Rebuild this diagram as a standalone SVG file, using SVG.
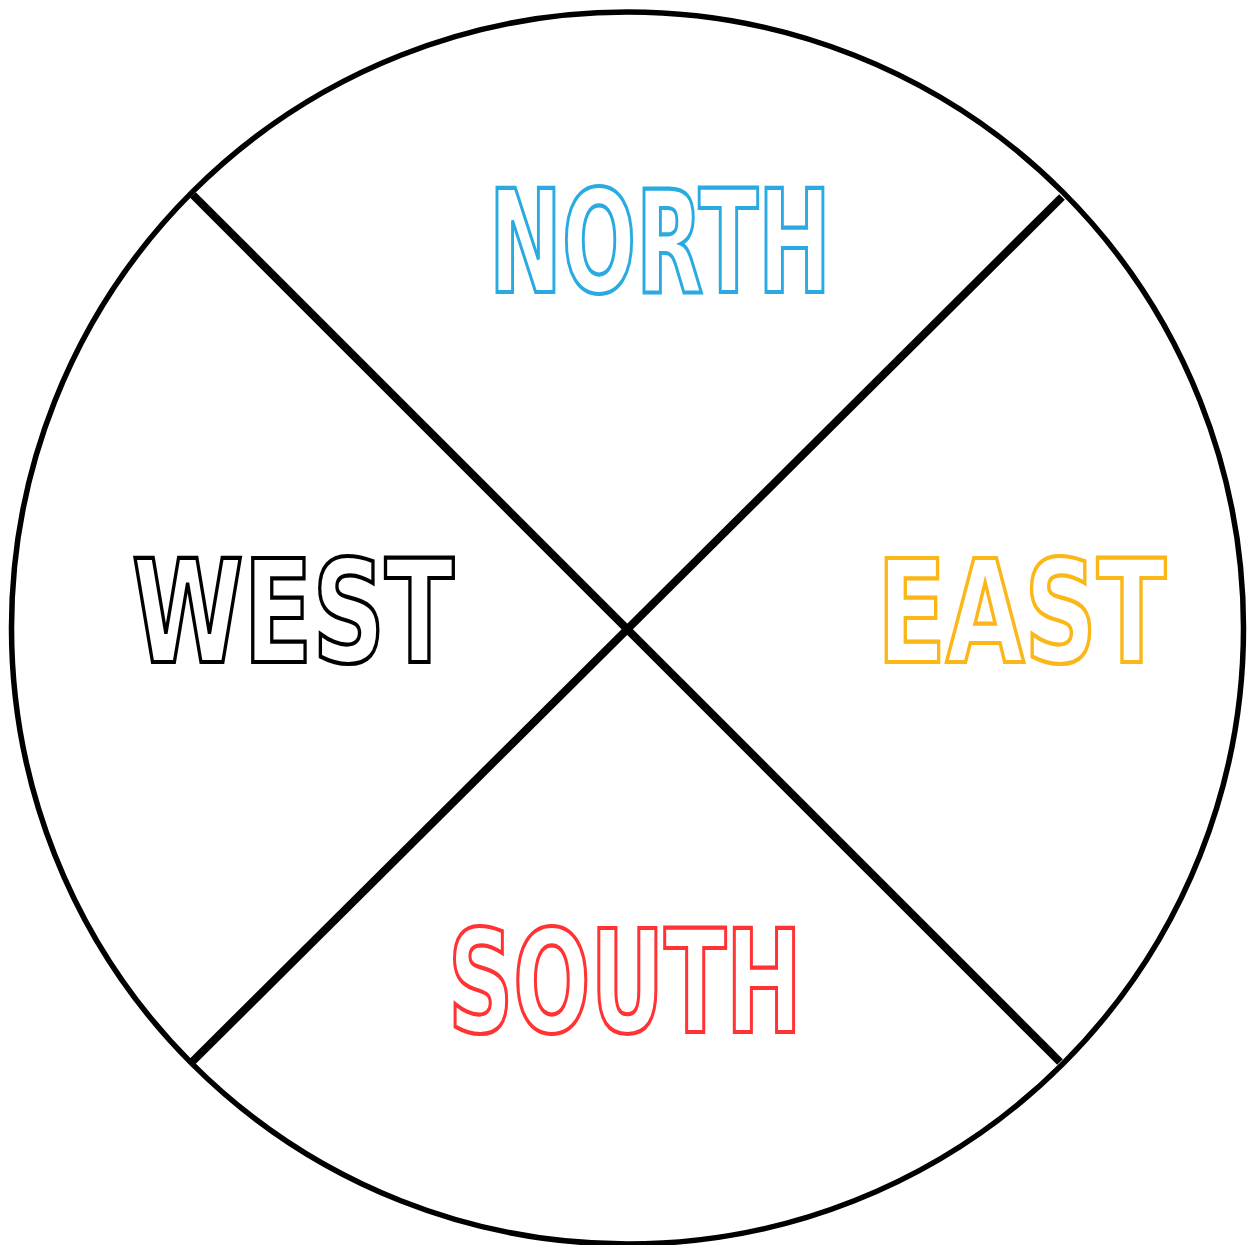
<svg xmlns="http://www.w3.org/2000/svg" width="1247" height="1245" viewBox="0 0 1247 1245">
<style>
.lbl{font-family:"DejaVu Sans Condensed","DejaVu Sans","Liberation Sans",sans-serif;font-stretch:condensed;font-weight:bold;font-size:142px;fill:#ffffff;stroke-width:4.2;stroke-linejoin:miter}
.ring{fill:#ffffff;stroke:#000;stroke-width:5.5}
.div{stroke:#000;stroke-width:8;fill:none}
</style>
<rect width="1247" height="1245" fill="#ffffff"/>
<g id="compass">
<circle class="ring" cx="627.5" cy="628" r="616"/>
</g>
<g id="connectors">
<line class="div" x1="193" y1="195" x2="1060" y2="1062"/>
<line class="div" x1="1062" y1="197" x2="192" y2="1062"/>
</g>
<g id="north"><text class="lbl" x="489" y="292" textLength="342" lengthAdjust="spacingAndGlyphs" stroke="#29ABE2">NORTH</text></g>
<g id="west"><text class="lbl" x="132" y="662" textLength="322" lengthAdjust="spacingAndGlyphs" stroke="#000000">WEST</text></g>
<g id="east"><text class="lbl" x="877" y="662" textLength="289" lengthAdjust="spacingAndGlyphs" stroke="#FBB617">EAST</text></g>
<g id="south"><text class="lbl" x="448" y="1032" textLength="354" lengthAdjust="spacingAndGlyphs" stroke="#FF3333">SOUTH</text></g>
</svg>
